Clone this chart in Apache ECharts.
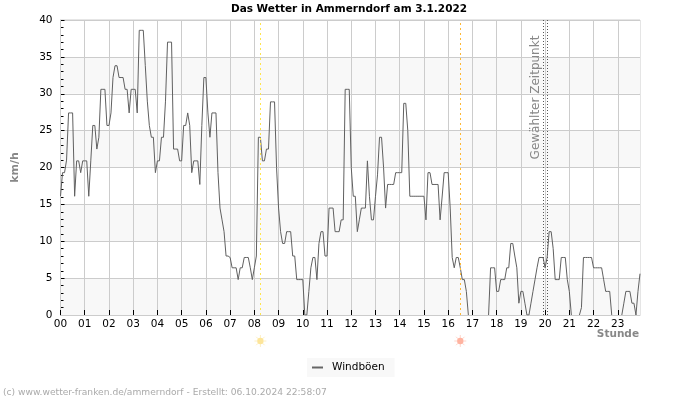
<!DOCTYPE html>
<html>
<head>
<meta charset="utf-8">
<style>html,body{margin:0;padding:0;background:#fff}#main{width:700px;height:400px}</style>
<script src="https://cdn.jsdelivr.net/npm/echarts@6/dist/echarts.min.js"></script>
</head>
<body>
<div id="main"></div>
<script>
const seriesName = 'Windböen'
const hours = ['00','01','02','03','04','05','06','07','08','09','10','11','12','13','14','15','16','17','18','19','20','21','22','23']
const minutes = ['00','05','10','15','20','25','30','35','40','45','50','55']
// Windböen in km/h, 5-Minuten-Werte je Stunde (null: Linie liegt auf der Achse, nicht sichtbar)
const h00 = [16.1,19.3,19.3,21,27.4,27.4,27.4,16.1,20.9,20.9,19.3,20.9]
const h01 = [20.9,20.9,16.1,20.9,25.7,25.7,22.5,24.1,30.6,30.6,30.6,25.7]
const h02 = [25.7,27.4,32.2,33.8,33.8,32.2,32.2,32.2,30.6,30.6,27.4,30.6]
const h03 = [30.6,30.6,27.4,38.6,38.6,38.6,33.8,29,25.7,24.1,24.1,19.3]
const h04 = [20.9,20.9,24.1,24.1,29,37,37,37,22.5,22.5,22.5,20.9]
const h05 = [20.9,25.7,25.7,27.4,25.7,19.3,20.9,20.9,20.9,17.7,25.7,32.2]
const h06 = [32.2,27.4,24.1,27.4,27.4,27.4,19.3,14.5,12.9,11.3,8,8]
const h07 = [7.8,6.4,6.4,6.4,4.8,6.4,6.4,7.8,7.8,7.8,6.4,4.8]
const h08 = [6.4,8,24.1,24.1,20.9,20.9,22.5,22.5,28.9,28.9,28.9,20]
const h09 = [14.5,11.3,9.7,9.7,11.3,11.3,11.3,8,8,4.8,4.8,4.8]
const h10 = [4.8,0,0,3.2,6.4,7.8,7.8,4.8,9.7,11.3,11.3,8]
const h11 = [8,14.5,14.5,14.5,11.3,11.3,11.3,12.9,12.9,30.6,30.6,30.6]
const h12 = [20,16.1,16.1,11.3,12.9,14.5,14.5,14.5,20.9,16.1,12.9,12.9]
const h13 = [16.1,19,24.1,24.1,20,14.5,17.7,17.7,17.7,17.7,19.3,19.3]
const h14 = [19.3,19.3,28.7,28.7,25,16.1,16.1,16.1,16.1,16.1,16.1,16.1]
const h15 = [16.1,12.9,19.3,19.3,17.7,17.7,17.7,17.7,12.9,16,19.3,19.3]
const h16 = [19.3,14.5,7.8,6.4,7.8,7.8,6.4,4.8,4.8,3.2,0,null]
const h17 = [null,null,null,null,null,null,null,null,0,6.4,6.4,6.4]
const h18 = [3.2,3.2,4.8,4.8,4.8,6.4,6.4,9.7,9.7,8,6.4,1.6]
const h19 = [3.2,3.2,1.6,0,0,1.6,3.2,4.8,6.4,7.8,7.8,7.8]
const h20 = [6.4,7.8,11.3,11.3,9,4.8,4.8,4.8,7.8,7.8,7.8,4.8]
const h21 = [3.2,0,null,null,null,0,1,7.8,7.8,7.8,7.8,7.8]
const h22 = [6.4,6.4,6.4,6.4,6.4,4.8,3.2,3.2,3.2,0,null,null]
const h23 = [null,null,0,1.6,3.2,3.2,3.2,1.6,1.6,0,3.2,5.6]
const windValues = [].concat(h00,h01,h02,h03,h04,h05,h06,h07,h08,h09,h10,h11,h12,h13,h14,h15,h16,h17,h18,h19,h20,h21,h22,h23)
const categories = hours.flatMap(h => minutes.map(m => h + ':' + m))
const sunrise = '08:15'
const sunset = '16:30'
const selectedBefore = '19:55'
const selectedAfter = '20:05'

const font = '"DejaVu Sans"'
const isHour = i => i % 12 === 0
const mychart = echarts.init(document.getElementById('main'))

function vline(name, color, dash) {
  return { xAxis: name, lineStyle: { color: color, type: dash, width: 1 } }
}

const option = {
  animation: false,
  textStyle: { fontFamily: font },
  title: {
    text: 'Das Wetter in Ammerndorf am 3.1.2022',
    left: 344, top: -1, textAlign: 'center',
    textStyle: { fontFamily: font, fontSize: 10.5, fontWeight: 'bold', color: '#000' },
  },
  grid: { left: 60.5, right: 60, top: 20, bottom: 85, show: true, borderColor: '#ccc', borderWidth: 1, backgroundColor: 'transparent' },
  legend: {
    left: 307, top: 358, padding: [4, 10, 4, 5], itemGap: 0, itemWidth: 11, itemHeight: 2,
    backgroundColor: '#f8f8f8', icon: 'rect',
    textStyle: { fontFamily: font, fontSize: 10.5, color: '#000', padding: [0, 0, 0, 4] },
    data: [seriesName],
  },
  xAxis: {
    type: 'category', data: categories, boundaryGap: false, z: 3,
    axisLine: { lineStyle: { color: '#ccc' } },
    axisTick: { inside: true, length: 5, interval: isHour, lineStyle: { color: '#000' } },
    axisLabel: { interval: isHour, formatter: v => v.slice(0, 2), fontSize: 10.5, color: '#000', margin: 4, fontFamily: font },
    splitLine: { show: true, interval: isHour, lineStyle: { color: '#ccc' } },
  },
  yAxis: {
    type: 'value', min: 0, max: 40, interval: 5,
    name: 'km/h', nameLocation: 'middle', nameGap: 40, nameRotate: 90,
    nameTextStyle: { fontFamily: font, fontSize: 11, fontWeight: 'bold', color: '#888' },
    axisLine: { show: true, lineStyle: { color: '#ccc' } },
    axisTick: { show: true, inside: true, length: 4, lineStyle: { color: '#000' } },
    minorTick: { show: true, splitNumber: 5, length: 3, lineStyle: { color: '#000' } },
    axisLabel: { fontSize: 10.5, color: '#000', margin: 8, fontFamily: font },
    splitLine: { show: true, lineStyle: { color: '#ccc' } },
    splitArea: { show: true, areaStyle: { color: ['#f8f8f8', '#ffffff'] } },
  },
  series: [{
    name: seriesName, type: 'line', data: windValues, showSymbol: false, symbol: 'none',
    lineStyle: { color: '#606060', width: 1 }, itemStyle: { color: '#666' },
    markLine: {
      silent: true, symbol: 'none', label: { show: false }, animation: false,
      data: [
        vline(sunrise, '#ffe44d', [2, 3]),
        vline(sunset, '#ffb833', [2, 3]),
        vline(selectedBefore, '#555', [1, 2]),
        vline(selectedAfter, '#555', [1, 2]),
      ],
    },
  }],
}
mychart.setOption(option)

function sunIcon(name, color, rayColor) {
  const cx = mychart.convertToPixel({ xAxisIndex: 0 }, name)
  const cy = 341
  const rays = []
  for (let a = 0; a < 8; a++) {
    const t = a * Math.PI / 4
    rays.push({
      type: 'line', silent: true,
      shape: { x1: cx + 3 * Math.cos(t), y1: cy + 3 * Math.sin(t), x2: cx + 6 * Math.cos(t), y2: cy + 6 * Math.sin(t) },
      style: { stroke: rayColor, lineWidth: 1 },
    })
  }
  rays.push({ type: 'circle', silent: true, shape: { cx: cx, cy: cy, r: 3.2 }, style: { fill: color } })
  return rays
}

mychart.setOption({
  graphic: [
    ...sunIcon(sunrise, '#fde59a', '#fdf0c4'),
    ...sunIcon(sunset, '#ffb3a0', '#ffd6cb'),
    {
      type: 'text', silent: true, x: 536, y: 97.5, rotation: Math.PI / 2,
      style: { text: 'Gewählter Zeitpunkt', font: '12px ' + font, fill: '#888', align: 'center', verticalAlign: 'middle' },
    },
    {
      type: 'text', silent: true, x: 639, y: 334,
      style: { text: 'Stunde', font: 'bold 10.5px ' + font, fill: '#888', align: 'right', verticalAlign: 'middle' },
    },
    {
      type: 'text', silent: true, x: 3, y: 393,
      style: { text: '(c) www.wetter-franken.de/ammerndorf - Erstellt: 06.10.2024 22:58:07', font: '9.15px ' + font, fill: '#aaa', verticalAlign: 'middle' },
    },
  ],
})
</script>
</body>
</html>
